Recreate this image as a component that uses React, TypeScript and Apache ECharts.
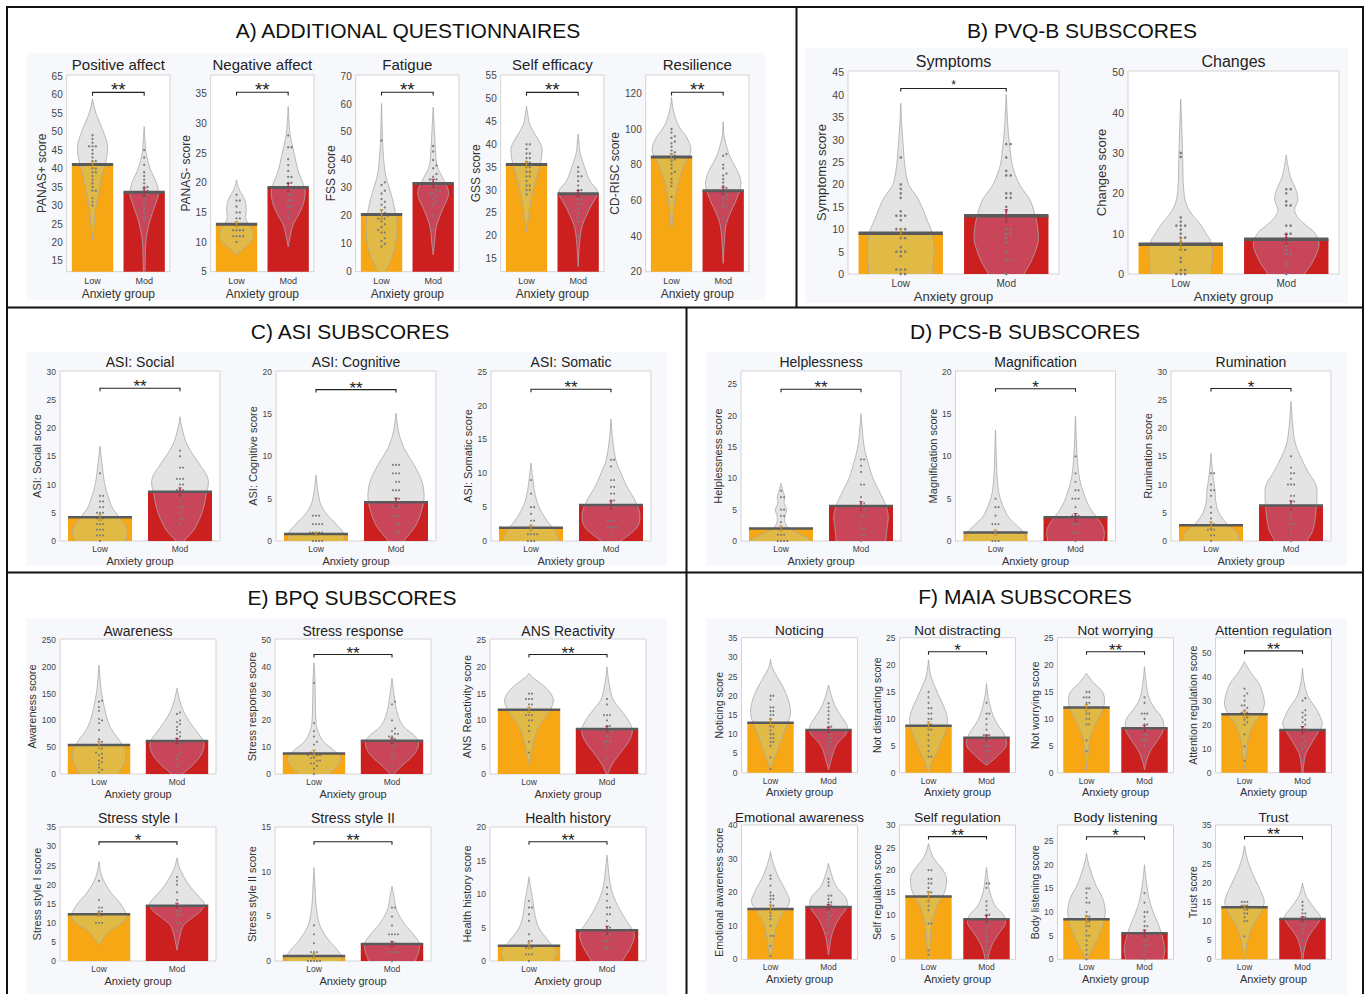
import React, { useEffect, useRef } from "react";
import * as echarts from "echarts";

const FONT = "'Liberation Sans', Arial, Helvetica, sans-serif";
const GROUPS = ["Low", "Mod"];
const ORANGE = "#f6a713";
const RED = "#cc1f1f";
const TINT_LOW = "#e1ba46";
const TINT_MOD = "#c9465a";
const VIOLIN = "#e4e4e4";

// ---------------- Panel A: Additional questionnaires ----------------
const A_titles = ["Positive affect", "Negative affect", "Fatigue", "Self efficacy", "Resilience"];
const A_yLabels = ["PANAS+ score", "PANAS- score", "FSS score", "GSS score", "CD-RISC score"];
const A_yLimits = [[12.1, 65.3], [5, 38.2], [0, 70.4], [12.1, 55.2], [20, 130.3]];
const A_yTicks = [[15, 65, 5], [5, 35, 5], [0, 70, 10], [15, 55, 5], [20, 120, 20]];
const A_meanLow = [41.1, 13.0, 20.5, 35.6, 84.3];
const A_meanMod = [33.6, 19.2, 31.6, 29.2, 65.4];
const A_seLow = [0.9, 0.45, 1.7, 0.7, 1.8];
const A_seMod = [1.1, 0.7, 1.5, 0.7, 2.0];
const A_sig = ["**", "**", "**", "**", "**"];
const A_sigLevel = [60.6, 35.3, 64.2, 51.4, 120.6];
const A_violinLow = [
  [[20.7, 0], [25, 0.06], [30, 0.14], [34, 0.25], [38, 0.36], [42, 0.52], [46, 0.58], [50, 0.42], [55, 0.13], [58.8, 0]],
  [[7.8, 0], [9, 0.3], [10.3, 0.6], [11.5, 0.66], [12.8, 0.5], [14, 0.36], [15.5, 0.38], [17, 0.33], [18.5, 0.15], [19.5, 0.05], [20.5, 0]],
  [[-2, 0.12], [0, 0.15], [5, 0.4], [10, 0.55], [17, 0.6], [25, 0.45], [30, 0.3], [35, 0.15], [42, 0.07], [50, 0.03], [60.2, 0]],
  [[20.9, 0], [23, 0.05], [27, 0.15], [31, 0.3], [35, 0.5], [38, 0.6], [40, 0.55], [44, 0.15], [46.5, 0.05], [48.4, 0]],
  [[43.4, 0], [55, 0.08], [65, 0.18], [72, 0.3], [80, 0.5], [88, 0.75], [95, 0.6], [100, 0.35], [105, 0.18], [112, 0.05], [118, 0]],
];
const A_violinMod = [
  [[10, 0.03], [18, 0.05], [22, 0.1], [26, 0.23], [30, 0.42], [33, 0.55], [36, 0.48], [40, 0.23], [44, 0.08], [47, 0.04], [51.3, 0]],
  [[9.2, 0], [11, 0.08], [13, 0.2], [15, 0.45], [17, 0.62], [19, 0.64], [22, 0.39], [25, 0.23], [28, 0.08], [30.5, 0.03], [32.9, 0]],
  [[6, 0], [10, 0.05], [16, 0.12], [22, 0.35], [28, 0.6], [33, 0.4], [38, 0.15], [45, 0.08], [52, 0.04], [58.8, 0]],
  [[13.2, 0], [18, 0.05], [22, 0.15], [26, 0.45], [29.5, 0.75], [32, 0.45], [35, 0.25], [38, 0.08], [40, 0.04], [42.3, 0]],
  [[24.7, 0], [35, 0.04], [45, 0.1], [52, 0.25], [60, 0.5], [68, 0.68], [75, 0.6], [85, 0.25], [95, 0.05], [104, 0]],
];
const A_dotsLow = [
  [49, 48, 47, 46, 46, 46, 45, 44, 43, 42, 42, 41, 41, 40, 40, 39, 39, 38, 37, 36, 35, 34, 34, 32, 31, 30],
  [18, 17, 17, 16, 15, 15, 14, 14, 13, 13, 13, 12, 12, 12, 12, 11, 11, 11, 11, 10],
  [47, 32, 31, 29, 28, 26, 25, 24, 23, 22, 21, 20, 20, 19, 19, 18, 17, 16, 15, 14, 14, 12, 11, 10, 9],
  [40, 40, 39, 38, 38, 37, 37, 36, 36, 35, 35, 34, 34, 33, 33, 32, 31, 31, 30, 30, 29],
  [100, 98, 96, 95, 93, 92, 90, 88, 87, 86, 85, 84, 83, 82, 80, 78, 76, 75, 72, 70, 68, 62],
];
const A_dotsMod = [
  [45, 43, 41, 39, 38, 37, 36, 35, 35, 34, 34, 33, 33, 32, 31, 30, 29, 28, 27, 26, 17],
  [28, 26, 26, 24, 23, 22, 21, 21, 20, 20, 19, 19, 18, 18, 17, 17, 16, 16, 15, 14],
  [45, 43, 40, 38, 37, 35, 34, 33, 33, 32, 31, 31, 30, 29, 29, 28, 28, 27, 26, 25, 24, 20, 15],
  [35, 34, 33, 33, 32, 31, 30, 30, 29, 29, 28, 28, 27, 27, 26, 25, 24, 23, 20],
  [86, 85, 80, 78, 75, 74, 72, 70, 68, 67, 66, 65, 64, 63, 62, 61, 60, 58, 57, 56, 50, 42],
];

// ---------------- Panel B: PVQ-B subscores ----------------
const B_titles = ["Symptoms", "Changes"];
const B_yLabels = ["Symptoms score", "Changes score"];
const B_yLimits = [[0, 45.3], [0, 50.3]];
const B_yTicks = [[0, 45, 5], [0, 50, 10]];
const B_meanLow = [9.1, 7.4];
const B_meanMod = [13.0, 8.6];
const B_seLow = [1.05, 1.5];
const B_seMod = [1.35, 1.2];
const B_sig = ["*", ""];
const B_sigLevel = [41.4, 0];
const B_violinLow = [
  [[-2, 0.58], [0, 0.6], [5, 0.63], [9, 0.6], [12, 0.5], [16.5, 0.34], [20, 0.15], [24, 0.08], [28, 0.05], [33, 0.02], [38.1, 0]],
  [[-2, 0.58], [0, 0.58], [5, 0.6], [8, 0.57], [10, 0.48], [12.5, 0.36], [15, 0.2], [18, 0.09], [22, 0.05], [27, 0.04], [32, 0.03], [38, 0.015], [43.3, 0]],
];
const B_violinMod = [
  [[-2, 0.3], [0, 0.34], [3, 0.48], [7, 0.6], [10, 0.6], [13, 0.55], [16.5, 0.45], [20, 0.25], [24, 0.12], [28, 0.07], [33, 0.03], [40, 0]],
  [[-2, 0.3], [0, 0.35], [3, 0.5], [7, 0.62], [10, 0.55], [12, 0.38], [14, 0.22], [16, 0.16], [18.5, 0.22], [21, 0.18], [24, 0.08], [27, 0.03], [29.5, 0]],
];
const B_dotsLow = [
  [26, 20, 19, 18, 17, 14, 13, 13, 13, 12, 10, 10, 10, 9, 8, 8, 6, 5, 5, 5, 4, 1, 1, 1, 0, 0],
  [30, 29, 14, 13, 12, 12, 12, 11, 10, 9, 9, 8, 7, 6, 6, 4, 3, 1, 1, 0, 0, 0],
];
const B_dotsMod = [
  [29, 29, 26, 23, 22, 22, 18, 18, 17, 17, 15, 14, 13, 13, 10, 10, 9, 9, 8, 7, 5, 3, 3, 0],
  [21, 21, 20, 18, 17, 17, 12, 12, 10, 10, 9, 8, 8, 7, 6, 5, 5, 3, 2, 0],
];

// ---------------- Panel C: ASI subscores ----------------
const C_titles = ["ASI: Social", "ASI: Cognitive", "ASI: Somatic"];
const C_yLabels = ["ASI: Social score", "ASI: Cognitive score", "ASI: Somatic score"];
const C_yLimits = [[0, 30.1], [0, 20.1], [0, 25.1]];
const C_yTicks = [[0, 30, 5], [0, 20, 5], [0, 25, 5]];
const C_meanLow = [4.2, 0.83, 1.97];
const C_meanMod = [8.7, 4.57, 5.3];
const C_seLow = [0.55, 0.2, 0.4];
const C_seMod = [0.7, 0.5, 0.6];
const C_sig = ["**", "**", "**"];
const C_sigLevel = [27.05, 17.9, 22.4];
const C_violinLow = [
  [[-2, 0.6], [0, 0.65], [2, 0.68], [4, 0.5], [6, 0.3], [8, 0.2], [10, 0.12], [13, 0.06], [16.8, 0]],
  [[-1, 0.68], [0, 0.7], [1, 0.68], [2, 0.5], [3, 0.3], [4, 0.15], [5, 0.08], [6.5, 0.03], [7.8, 0]],
  [[-1, 0.68], [0, 0.7], [1.5, 0.6], [3, 0.4], [5, 0.2], [7, 0.1], [9, 0.05], [11.5, 0]],
];
const C_violinMod = [
  [[-1, 0.05], [0, 0.1], [2, 0.35], [5, 0.55], [8, 0.65], [11, 0.7], [14, 0.45], [17, 0.18], [20, 0.05], [22, 0]],
  [[-1, 0.15], [0, 0.2], [1.5, 0.45], [3, 0.6], [5, 0.7], [7, 0.65], [9, 0.45], [11, 0.2], [13, 0.06], [15.1, 0]],
  [[-1, 0.15], [0, 0.25], [2, 0.65], [4, 0.72], [6, 0.6], [8, 0.4], [10, 0.25], [12, 0.12], [15, 0.04], [18, 0]],
];
const C_dotsLow = [
  [12, 8, 8, 7, 7, 6, 6, 5, 5, 5, 4, 4, 4, 3, 3, 3, 2, 2, 2, 1, 1, 1, 0],
  [3, 3, 3, 2, 2, 2, 2, 1, 1, 1, 1, 1, 0, 0, 0, 0],
  [9, 7, 5, 5, 4, 3, 3, 2, 2, 2, 1, 1, 1, 1, 0, 0, 0],
];
const C_dotsMod = [
  [16, 15, 13, 13, 11, 11, 11, 10, 10, 9, 9, 9, 8, 8, 7, 6, 6, 5, 4, 4, 3],
  [9, 9, 9, 8, 8, 8, 7, 7, 6, 6, 6, 5, 5, 4, 4, 4, 3, 3, 3, 2, 2, 1, 1],
  [12, 12, 11, 9, 9, 8, 8, 7, 7, 6, 6, 5, 5, 3, 3, 3, 2, 2, 2, 2, 1],
];

// ---------------- Panel D: PCS-B subscores ----------------
const D_titles = ["Helplessness", "Magnification", "Rumination"];
const D_yLabels = ["Helplessness score", "Magnification score", "Rumination score"];
const D_yLimits = [[0, 27.1], [0, 20.1], [0, 30.1]];
const D_yTicks = [[0, 25, 5], [0, 20, 5], [0, 30, 5]];
const D_meanLow = [2.0, 1.0, 2.8];
const D_meanMod = [5.57, 2.8, 6.3];
const D_seLow = [0.4, 0.3, 0.6];
const D_seMod = [0.7, 0.45, 0.8];
const D_sig = ["**", "*", "*"];
const D_sigLevel = [24.2, 18.0, 27.0];
const D_violinLow = [
  [[-1, 0.8], [0, 0.78], [1, 0.5], [2, 0.2], [3, 0.1], [4, 0.1], [5, 0.14], [6, 0.08], [7, 0.09], [8, 0.05], [9.2, 0]],
  [[-1, 0.75], [0, 0.75], [1, 0.7], [2, 0.5], [3, 0.3], [5, 0.12], [7, 0.05], [10, 0.02], [13.1, 0]],
  [[-1, 0.7], [0, 0.7], [1.5, 0.65], [3, 0.4], [5, 0.2], [7, 0.12], [9, 0.1], [11, 0.06], [13, 0.03], [15.5, 0]],
];
const D_violinMod = [
  [[-1, 0.6], [0, 0.62], [2, 0.65], [4, 0.68], [6, 0.6], [8, 0.45], [10, 0.3], [12, 0.2], [15, 0.08], [18, 0.03], [20.3, 0]],
  [[-1, 0.7], [0, 0.7], [1, 0.72], [2, 0.65], [4, 0.35], [6, 0.18], [8, 0.08], [11, 0.03], [14.8, 0]],
  [[-1, 0.35], [0, 0.4], [2, 0.55], [5, 0.62], [8, 0.65], [10, 0.62], [12, 0.45], [14, 0.3], [17, 0.12], [20, 0.05], [24.7, 0]],
];
const D_dotsLow = [
  [8, 7, 7, 5, 5, 4, 4, 3, 2, 2, 2, 1, 1, 1, 0, 0, 0, 0],
  [5, 4, 4, 3, 2, 2, 2, 1, 1, 1, 1, 0, 0, 0],
  [12, 12, 10, 9, 9, 8, 6, 5, 4, 3, 3, 2, 2, 2, 1, 1, 0],
];
const D_dotsMod = [
  [13, 13, 12, 11, 9, 9, 7, 6, 6, 5, 5, 4, 4, 3, 2, 2, 1, 1, 0],
  [10, 8, 7, 6, 6, 5, 5, 5, 4, 3, 3, 3, 2, 2, 2, 1, 1, 1, 0],
  [15, 13, 12, 12, 11, 10, 10, 10, 8, 8, 7, 7, 6, 5, 4, 3, 3, 2, 1, 0],
];

// ---------------- Panel E: BPQ subscores ----------------
const E_titles = ["Awareness", "Stress response", "ANS Reactivity", "Stress style I", "Stress style II", "Health history"];
const E_yLabels = ["Awareness score", "Stress response score", "ANS Reactivity score", "Stress style I score", "Stress style II score", "Health history score"];
const E_yLimits = [[0, 252], [0, 50.4], [0, 25.2], [0, 35.1], [0, 15.05], [0, 20.05]];
const E_yTicks = [[0, 250, 50], [0, 50, 10], [0, 25, 5], [0, 35, 5], [0, 15, 5], [0, 20, 5]];
const E_meanLow = [54.1, 7.7, 12.0, 12.25, 0.56, 2.3];
const E_meanMod = [61.6, 12.4, 8.4, 14.5, 1.9, 4.6];
const E_seLow = [7, 1.2, 0.5, 0.55, 0.25, 0.5];
const E_seMod = [5, 1.0, 0.5, 0.65, 0.3, 0.6];
const E_sig = ["", "**", "**", "*", "**", "**"];
const E_sigLevel = [0, 44.6, 22.3, 31.2, 13.4, 17.85];
const E_violinLow = [
  [[-10, 0.45], [0, 0.5], [20, 0.65], [40, 0.68], [60, 0.55], [80, 0.35], [100, 0.22], [130, 0.12], [160, 0.05], [203, 0]],
  [[-2, 0.35], [0, 0.4], [3, 0.6], [6, 0.68], [9, 0.5], [12, 0.25], [16, 0.1], [20, 0.05], [30, 0.03], [35, 0.025], [41.5, 0]],
  [[1.7, 0], [4, 0.06], [6, 0.12], [8, 0.2], [10, 0.35], [12, 0.55], [14, 0.62], [16, 0.45], [18, 0.1], [18.8, 0]],
  [[4.3, 0], [6, 0.12], [8, 0.3], [10, 0.6], [12, 0.7], [15, 0.55], [18, 0.3], [22, 0.08], [26, 0]],
  [[-1, 0.7], [0, 0.7], [0.5, 0.72], [1.5, 0.55], [2.5, 0.35], [4, 0.15], [6, 0.06], [8, 0.03], [10.5, 0]],
  [[-1, 0.62], [0, 0.65], [1.5, 0.7], [3, 0.5], [5, 0.25], [7, 0.15], [9, 0.1], [11, 0.04], [12.6, 0]],
];
const E_violinMod = [
  [[-10, 0.1], [0, 0.15], [20, 0.45], [40, 0.65], [60, 0.68], [80, 0.5], [100, 0.3], [120, 0.15], [140, 0.06], [160, 0]],
  [[-1, 0.02], [0, 0.05], [3, 0.25], [7, 0.55], [11, 0.68], [14, 0.6], [17, 0.35], [20, 0.2], [25, 0.1], [30, 0.05], [35.7, 0]],
  [[-1, 0.01], [0, 0.02], [2, 0.15], [4, 0.35], [6, 0.55], [8, 0.65], [10, 0.55], [12, 0.35], [14, 0.15], [17, 0.05], [20, 0]],
  [[2.8, 0], [6, 0.06], [9, 0.15], [11, 0.35], [13, 0.6], [15, 0.7], [17, 0.55], [20, 0.3], [24, 0.08], [27, 0]],
  [[-1, 0.55], [0, 0.6], [1, 0.68], [2, 0.7], [3, 0.55], [4, 0.35], [5, 0.2], [6, 0.1], [7.5, 0.04], [8.4, 0]],
  [[-1, 0.35], [0, 0.4], [2, 0.6], [4, 0.7], [6, 0.5], [8, 0.3], [10, 0.15], [12, 0.07], [15.85, 0]],
];
const E_dotsLow = [
  [137, 135, 125, 118, 103, 100, 95, 82, 65, 60, 55, 48, 45, 40, 38, 35, 30, 25, 22, 18, 12, 8, 3],
  [34, 19, 16, 14, 12, 11, 9, 8, 8, 7, 7, 7, 6, 6, 5, 5, 4, 4, 3, 2, 0],
  [15, 15, 14, 14, 14, 13, 13, 12, 12, 12, 11, 11, 11, 10, 10, 9, 8, 6, 4],
  [21, 17, 16, 15, 14, 14, 13, 13, 12, 12, 11, 11, 11, 10, 10, 10, 9, 9],
  [4, 3, 2, 1, 1, 1, 0, 0, 0, 0, 0],
  [9, 8, 8, 7, 6, 4, 3, 3, 2, 2, 2, 1, 1, 1, 0],
];
const E_dotsMod = [
  [115, 112, 100, 97, 93, 88, 82, 78, 75, 70, 66, 60, 58, 55, 50, 45, 40, 35, 28, 20, 15],
  [27, 26, 20, 17, 16, 15, 15, 14, 14, 13, 12, 12, 11, 10, 9, 8, 7, 6, 3],
  [14, 13, 11, 11, 11, 10, 9, 9, 8, 8, 8, 8, 7, 7, 6, 6, 6, 5, 3],
  [22, 21, 20, 18, 17, 17, 16, 15, 15, 14, 14, 13, 13, 12, 12, 11, 10, 10, 8],
  [6, 6, 5, 4, 3, 3, 3, 3, 2, 2, 1, 1, 1, 1, 0],
  [11, 10, 9, 8, 8, 7, 7, 6, 5, 5, 4, 4, 4, 3, 3, 3, 2, 2, 2],
];

// ---------------- Panel F: MAIA subscores ----------------
const F_titles = ["Noticing", "Not distracting", "Not worrying", "Attention regulation", "Emotional awareness", "Self regulation", "Body listening", "Trust"];
const F_yLabels = ["Noticing score", "Not distracting score", "Not worrying score", "Attention regulation score", "Emotional awareness score", "Self regulation score", "Body listening score", "Trust score"];
const F_yLimits = [[0, 35.1], [0, 25.1], [0, 25.1], [0, 56.2], [0, 40.1], [0, 30.1], [0, 28.4], [0, 35.1]];
const F_yTicks = [[0, 35, 5], [0, 25, 5], [0, 25, 5], [0, 50, 10], [0, 40, 10], [0, 30, 5], [0, 25, 5], [0, 35, 5]];
const F_meanLow = [13.0, 8.75, 12.1, 24.3, 15.0, 14.1, 8.45, 13.6];
const F_meanMod = [11.1, 6.5, 8.25, 17.8, 15.6, 9.0, 5.5, 10.5];
const F_seLow = [0.9, 0.7, 0.6, 1.4, 1.2, 1.1, 0.8, 0.5];
const F_seMod = [0.7, 0.5, 0.55, 1.4, 0.8, 0.8, 0.7, 0.6];
const F_sig = ["", "*", "**", "**", "", "**", "*", "**"];
const F_sigLevel = [0, 22.5, 22.5, 50.7, 0, 27.5, 25.9, 32.1];
const F_violinLow = [
  [[0.7, 0], [3, 0.1], [6, 0.25], [9, 0.4], [12, 0.55], [15, 0.68], [18, 0.65], [22, 0.45], [27, 0.08], [29.5, 0]],
  [[-1, 0.01], [0, 0.02], [2, 0.12], [4, 0.3], [6, 0.45], [8, 0.6], [10, 0.65], [12, 0.55], [15, 0.3], [18, 0.08], [21, 0]],
  [[0.5, 0], [3, 0.04], [5, 0.08], [7, 0.15], [9, 0.3], [11, 0.5], [13, 0.62], [15, 0.55], [17, 0.2], [18.5, 0]],
  [[1.1, 0], [5, 0.04], [10, 0.08], [15, 0.15], [20, 0.3], [24, 0.55], [28, 0.68], [32, 0.65], [37, 0.5], [42, 0.2], [46.25, 0]],
  [[0.3, 0], [2, 0.05], [5, 0.1], [8, 0.15], [11, 0.25], [14, 0.45], [17, 0.65], [20, 0.55], [25, 0.25], [30, 0.05], [32.2, 0]],
  [[-1, 0.03], [0, 0.03], [3, 0.05], [6, 0.08], [9, 0.15], [12, 0.3], [15, 0.55], [18, 0.62], [20, 0.5], [23, 0.15], [26, 0]],
  [[-1, 0.03], [0, 0.04], [1, 0.1], [4, 0.35], [7, 0.55], [10, 0.65], [13, 0.55], [16, 0.3], [20, 0.08], [22.4, 0]],
  [[-1, 0.02], [0, 0.02], [3, 0.06], [6, 0.15], [9, 0.3], [12, 0.55], [15, 0.68], [18, 0.55], [22, 0.3], [26, 0.1], [29.7, 0]],
];
const F_violinMod = [
  [[0.7, 0], [3, 0.08], [6, 0.2], [8, 0.35], [10, 0.6], [12, 0.65], [14, 0.5], [17, 0.25], [20, 0.1], [22.8, 0]],
  [[1.4, 0], [2, 0.15], [3.5, 0.45], [5, 0.68], [7, 0.62], [9, 0.38], [11, 0.2], [14, 0.06], [16.6, 0]],
  [[0.5, 0], [2, 0.06], [4, 0.2], [6, 0.45], [8, 0.65], [10, 0.62], [12, 0.35], [14, 0.15], [17, 0.05], [19.7, 0]],
  [[-1, 0.02], [0, 0.02], [4, 0.05], [8, 0.12], [12, 0.3], [16, 0.5], [20, 0.68], [23, 0.62], [27, 0.45], [32, 0.18], [38, 0.05], [43.5, 0]],
  [[1.3, 0], [3, 0.03], [6, 0.08], [9, 0.18], [12, 0.35], [15, 0.6], [17, 0.65], [19, 0.55], [22, 0.25], [26, 0.08], [28.7, 0]],
  [[-1, 0.05], [0, 0.05], [2, 0.12], [4, 0.25], [6, 0.45], [8, 0.65], [10, 0.58], [12, 0.3], [15, 0.12], [18, 0.05], [20.6, 0]],
  [[-1, 0.65], [0, 0.65], [2, 0.7], [4, 0.65], [7, 0.5], [10, 0.3], [13, 0.15], [17, 0.05], [20, 0]],
  [[-1, 0.02], [0, 0.02], [2, 0.05], [5, 0.15], [7, 0.3], [9, 0.5], [11, 0.62], [13, 0.45], [15, 0.25], [17, 0.1], [19.9, 0]],
];
const F_dotsLow = [
  [20, 20, 19, 17, 17, 16, 16, 15, 15, 14, 13, 12, 12, 11, 10, 10, 9, 9, 8, 8, 7, 4, 1],
  [15, 14, 13, 12, 12, 11, 11, 10, 10, 9, 9, 8, 8, 7, 6, 5, 4, 3, 3],
  [15, 15, 14, 14, 14, 13, 13, 12, 12, 11, 11, 10, 10, 9, 9, 6, 4],
  [35, 33, 32, 30, 28, 28, 27, 26, 25, 25, 24, 23, 22, 21, 20, 16, 11, 5],
  [25, 24, 22, 20, 19, 19, 18, 18, 17, 16, 16, 15, 15, 14, 13, 12, 10, 7, 7, 4, 1],
  [20, 20, 18, 18, 17, 17, 16, 15, 15, 14, 14, 13, 12, 11, 8, 8, 2, 1],
  [15, 15, 14, 13, 12, 12, 10, 9, 9, 8, 8, 7, 7, 6, 5, 5, 4, 3, 2, 1, 0],
  [15, 15, 15, 14, 14, 14, 13, 13, 12, 12, 11, 10, 10, 6],
];
const F_dotsMod = [
  [18, 17, 16, 15, 14, 13, 12, 12, 11, 11, 10, 10, 9, 9, 8, 8, 7, 6, 5],
  [13, 11, 11, 10, 9, 8, 7, 7, 7, 6, 6, 6, 5, 5, 5, 4, 4, 3, 2],
  [14, 13, 11, 11, 11, 10, 9, 9, 8, 8, 8, 7, 7, 6, 6, 6, 5, 3],
  [31, 30, 26, 25, 24, 23, 22, 21, 20, 19, 18, 17, 15, 13, 12, 11, 10, 5, 2],
  [24, 23, 22, 19, 19, 18, 17, 17, 16, 16, 15, 15, 14, 13, 13, 12, 11, 10, 8],
  [17, 17, 16, 13, 12, 11, 10, 10, 9, 9, 8, 8, 7, 6, 5, 4, 3, 2, 1],
  [14, 12, 10, 10, 9, 8, 7, 7, 6, 5, 5, 4, 4, 3, 3, 2, 1, 0],
  [15, 14, 13, 12, 12, 11, 11, 10, 10, 9, 9, 8, 7, 5, 3, 1],
];

const PANEL_TITLES = ["A) ADDITIONAL QUESTIONNAIRES", "B) PVQ-B SUBSCORES", "C) ASI SUBSCORES", "D) PCS-B SUBSCORES", "E) BPQ SUBSCORES", "F) MAIA SUBSCORES"];

// ---------------- helpers ----------------
type PanelData = {
  titles: string[]; yLabels: string[]; yLimits: number[][]; yTicks: number[][];
  meanLow: number[]; meanMod: number[]; seLow: number[]; seMod: number[];
  sig: string[]; sigLevel: number[];
  violinLow: number[][][]; violinMod: number[][][];
  dotsLow: number[][]; dotsMod: number[][];
};
type Layout = {
  boxes: number[][]; titleY: number[];
  fTitle: number; fTick: number; fYName: number; fCat: number; fXName: number;
  catGap: number; xNameGap: number; yNameGap: number;
  dotR: number; dotDx: number; meanW: number; starFont: number; starDy: number; drop: number;
};

function sampleProfile(p: number[][]): number[][] {
  const out: number[][] = [];
  const n = p.length;
  const cr = (a: number, b: number, c: number, d: number, t: number) => {
    const t2 = t * t, t3 = t2 * t;
    return 0.5 * (2 * b + (-a + c) * t + (2 * a - 5 * b + 4 * c - d) * t2 + (-a + 3 * b - 3 * c + d) * t3);
  };
  for (let i = 0; i < n - 1; i++) {
    const p0 = p[Math.max(0, i - 1)], p1 = p[i], p2 = p[i + 1], p3 = p[Math.min(n - 1, i + 2)];
    for (let s = 0; s < 8; s++) {
      const t = s / 8;
      out.push([cr(p0[0], p1[0], p2[0], p3[0], t), Math.max(0, cr(p0[1], p1[1], p2[1], p3[1], t))]);
    }
  }
  out.push(p[n - 1]);
  const asc: number[][] = [];
  for (const q of out) if (!asc.length || q[0] > asc[asc.length - 1][0]) asc.push(q);
  return asc;
}

function widthAt(s: number[][], v: number): number {
  if (v <= s[0][0]) return s[0][1];
  for (let i = 1; i < s.length; i++) {
    if (v <= s[i][0]) {
      const t = (v - s[i - 1][0]) / (s[i][0] - s[i - 1][0]);
      return s[i - 1][1] + t * (s[i][1] - s[i - 1][1]);
    }
  }
  return s[s.length - 1][1];
}

function clipRange(s: number[][], lo: number, hi: number): number[][] {
  const a = Math.max(lo, s[0][0]);
  const b = Math.min(hi, s[s.length - 1][0]);
  if (a >= b) return [];
  const out: number[][] = [[a, widthAt(s, a)]];
  for (const q of s) if (q[0] > a && q[0] < b) out.push(q);
  out.push([b, widthAt(s, b)]);
  return out;
}

function makeTicks(spec: number[]): number[] {
  const r: number[] = [];
  for (let t = spec[0]; t <= spec[1] + 1e-9; t += spec[2]) r.push(t);
  return r;
}

function buildOption() {
  const grids: any[] = [];
  const xAxes: any[] = [];
  const yAxes: any[] = [];
  const series: any[] = [];
  const graphics: any[] = [];

  const addPanel = (d: PanelData, L: Layout) => {
    d.titles.forEach((title, j) => {
      const idx = grids.length;
      const [bx, by, bw, bh] = L.boxes[j];
      const [lo, hi] = d.yLimits[j];
      grids.push({ left: bx, top: by, width: bw, height: bh, show: true, backgroundColor: "#ffffff", borderColor: "#d3d3d3", borderWidth: 1, containLabel: false });
      xAxes.push({
        type: "category", gridIndex: idx, data: GROUPS,
        axisLine: { show: false }, axisTick: { show: false },
        axisLabel: { fontSize: L.fCat, color: "#3a3a3a", margin: L.catGap, fontFamily: FONT },
        name: "Anxiety group", nameLocation: "middle", nameGap: L.xNameGap,
        nameTextStyle: { fontSize: L.fXName, color: "#333", fontFamily: FONT },
      });
      yAxes.push({
        type: "value", gridIndex: idx, min: lo, max: hi,
        axisLine: { show: false }, axisTick: { show: false }, splitLine: { show: false },
        axisLabel: { customValues: makeTicks(d.yTicks[j]), fontSize: L.fTick, color: "#444", margin: 4, fontFamily: FONT },
        name: d.yLabels[j], nameLocation: "middle", nameRotate: 90, nameGap: L.yNameGap,
        nameTextStyle: { fontSize: L.fYName, color: "#333", fontFamily: FONT },
      });
      series.push({
        type: "bar", xAxisIndex: idx, yAxisIndex: idx, barWidth: "80%", silent: true, z: 2,
        data: [
          { value: d.meanLow[j], itemStyle: { color: ORANGE } },
          { value: d.meanMod[j], itemStyle: { color: RED } },
        ],
      });
      series.push({
        type: "custom", xAxisIndex: idx, yAxisIndex: idx, silent: true, z: 3,
        data: [[0, lo], [1, lo]],
        renderItem: (params: any, api: any) => {
          const g = params.dataIndex;
          const band = api.size([1, 0])[0];
          const cx = api.coord([g, lo])[0];
          const Y = (v: number) => api.coord([g, v])[1];
          const mean = g === 0 ? d.meanLow[j] : d.meanMod[j];
          const se = g === 0 ? d.seLow[j] : d.seMod[j];
          const prof = g === 0 ? d.violinLow[j] : d.violinMod[j];
          const dots = g === 0 ? d.dotsLow[j] : d.dotsMod[j];
          const children: any[] = [];
          const samp = sampleProfile(prof);
          const poly = (list: number[][]) => {
            const right = list.map(([v, w]) => [cx + (w * band) / 2, Y(v)]);
            const left = list.slice().reverse().map(([v, w]) => [cx - (w * band) / 2, Y(v)]);
            return right.concat(left);
          };
          const m = Math.min(Math.max(mean, lo), hi);
          const above = clipRange(samp, m, hi);
          const below = clipRange(samp, lo, m);
          if (above.length > 1) children.push({ type: "polygon", shape: { points: poly(above) }, style: { fill: VIOLIN } });
          if (below.length > 1) children.push({ type: "polygon", shape: { points: poly(below) }, style: { fill: g === 0 ? TINT_LOW : TINT_MOD } });
          const full = clipRange(samp, lo, hi);
          if (full.length > 1) {
            const leftSide = full.map(([v, w]) => [cx - (w * band) / 2, Y(v)]);
            const rightSide = full.slice().reverse().map(([v, w]) => [cx + (w * band) / 2, Y(v)]);
            children.push({ type: "polyline", shape: { points: leftSide.concat(rightSide) }, style: { stroke: "#a8a8a8", lineWidth: 0.8, fill: "none" } });
          }
          // swarm of dots
          const vals = dots.slice().sort((a, b) => a - b);
          const placed: number[][] = [];
          const minD = L.dotR * 2 + 0.8;
          for (const v of vals) {
            const y = Y(v);
            let off = 0;
            for (let k = 0; k < 40; k++) {
              const o = k === 0 ? 0 : (k % 2 ? 1 : -1) * Math.ceil(k / 2) * L.dotDx;
              if (placed.every(([px, py]) => Math.hypot(px - o, py - y) >= minD)) { off = o; break; }
            }
            placed.push([off, y]);
          }
          placed.forEach(([o, y]) => {
            children.push({ type: "circle", shape: { cx: cx + o, cy: y, r: L.dotR }, style: { fill: "#7b7b7b" } });
          });
          // mean line
          const ym = Y(mean);
          children.push({ type: "line", shape: { x1: cx - 0.4 * band, y1: ym, x2: cx + 0.4 * band, y2: ym }, style: { stroke: "#5a5a5a", lineWidth: L.meanW } });
          // error bar
          const ec = g === 0 ? "#c39430" : "#a8324c";
          const y1 = Y(mean - se), y2 = Y(mean + se);
          children.push({ type: "line", shape: { x1: cx, y1, x2: cx, y2 }, style: { stroke: ec, lineWidth: 1.3 } });
          children.push({ type: "line", shape: { x1: cx - 1.8, y1, x2: cx + 1.8, y2: y1 }, style: { stroke: ec, lineWidth: 1 } });
          children.push({ type: "line", shape: { x1: cx - 1.8, y1: y2, x2: cx + 1.8, y2 }, style: { stroke: ec, lineWidth: 1 } });
          // significance bracket
          if (g === 0 && d.sig[j]) {
            const x0 = cx;
            const x1 = api.coord([1, lo])[0];
            const yb = Y(d.sigLevel[j]);
            children.push({ type: "polyline", shape: { points: [[x0, yb + L.drop], [x0, yb], [x1, yb], [x1, yb + L.drop]] }, style: { stroke: "#222", lineWidth: 1.1, fill: "none" } });
            children.push({
              type: "text",
              style: { text: d.sig[j], x: (x0 + x1) / 2, y: yb + L.starDy, fill: "#222", fontSize: L.starFont, fontFamily: FONT, align: "center", verticalAlign: "middle", textAlign: "center", textVerticalAlign: "middle" },
            });
          }
          return { type: "group", children };
        },
      });
      graphics.push({
        type: "text", x: bx + bw / 2, y: L.titleY[j], z: 50,
        style: { text: title, fill: "#222", fontSize: L.fTitle, fontFamily: FONT, align: "center", verticalAlign: "middle", textAlign: "center", textVerticalAlign: "middle" },
      });
    });
  };

  const dataOf = (p: string): PanelData => {
    const M: any = {
      A: [A_titles, A_yLabels, A_yLimits, A_yTicks, A_meanLow, A_meanMod, A_seLow, A_seMod, A_sig, A_sigLevel, A_violinLow, A_violinMod, A_dotsLow, A_dotsMod],
      B: [B_titles, B_yLabels, B_yLimits, B_yTicks, B_meanLow, B_meanMod, B_seLow, B_seMod, B_sig, B_sigLevel, B_violinLow, B_violinMod, B_dotsLow, B_dotsMod],
      C: [C_titles, C_yLabels, C_yLimits, C_yTicks, C_meanLow, C_meanMod, C_seLow, C_seMod, C_sig, C_sigLevel, C_violinLow, C_violinMod, C_dotsLow, C_dotsMod],
      D: [D_titles, D_yLabels, D_yLimits, D_yTicks, D_meanLow, D_meanMod, D_seLow, D_seMod, D_sig, D_sigLevel, D_violinLow, D_violinMod, D_dotsLow, D_dotsMod],
      E: [E_titles, E_yLabels, E_yLimits, E_yTicks, E_meanLow, E_meanMod, E_seLow, E_seMod, E_sig, E_sigLevel, E_violinLow, E_violinMod, E_dotsLow, E_dotsMod],
      F: [F_titles, F_yLabels, F_yLimits, F_yTicks, F_meanLow, F_meanMod, F_seLow, F_seMod, F_sig, F_sigLevel, F_violinLow, F_violinMod, F_dotsLow, F_dotsMod],
    };
    const a = M[p];
    return {
      titles: a[0], yLabels: a[1], yLimits: a[2], yTicks: a[3], meanLow: a[4], meanMod: a[5], seLow: a[6], seMod: a[7],
      sig: a[8], sigLevel: a[9], violinLow: a[10], violinMod: a[11], dotsLow: a[12], dotsMod: a[13],
    };
  };

  // layouts (pixel geometry)
  const aLefts = [66.7, 210.7, 355.7, 500.7, 645.7];
  addPanel(dataOf("A"), {
    boxes: aLefts.map((l) => [l, 75, 103.3, 196.7]), titleY: aLefts.map(() => 64),
    fTitle: 15, fTick: 10, fYName: 12, fCat: 9, fXName: 12, catGap: 5, xNameGap: 16, yNameGap: 16,
    dotR: 1.15, dotDx: 3.3, meanW: 3, starFont: 19, starDy: -2.5, drop: 3.3,
  });
  const bLefts = [848, 1128];
  addPanel(dataOf("B"), {
    boxes: bLefts.map((l) => [l, 71, 211, 203]), titleY: [61, 61],
    fTitle: 16, fTick: 10.5, fYName: 13, fCat: 10, fXName: 13, catGap: 4.5, xNameGap: 16, yNameGap: 17,
    dotR: 1.3, dotDx: 4.4, meanW: 3.5, starFont: 12, starDy: -3.7, drop: 3,
  });
  const cLefts = [60, 276, 491];
  addPanel(dataOf("C"), {
    boxes: cLefts.map((l) => [l, 371, 160, 170]), titleY: [362, 362, 362],
    fTitle: 14, fTick: 8.5, fYName: 11, fCat: 8.5, fXName: 11, catGap: 3, xNameGap: 14, yNameGap: 14.5,
    dotR: 1.05, dotDx: 3.1, meanW: 2.5, starFont: 17, starDy: -1.5, drop: 3,
  });
  const dLefts = [741, 955.5, 1171];
  addPanel(dataOf("D"), {
    boxes: dLefts.map((l) => [l, 371, 160, 170]), titleY: [362, 362, 362],
    fTitle: 14, fTick: 8.5, fYName: 11, fCat: 8.5, fXName: 11, catGap: 3, xNameGap: 14, yNameGap: 14.5,
    dotR: 1.05, dotDx: 3.1, meanW: 2.5, starFont: 17, starDy: -1.5, drop: 3,
  });
  const eLefts = [60, 275, 490];
  addPanel(dataOf("E"), {
    boxes: [...eLefts.map((l) => [l, 639, 156, 135]), ...eLefts.map((l) => [l, 827, 156, 134])],
    titleY: [630.5, 630.5, 630.5, 818, 818, 818],
    fTitle: 14, fTick: 8.5, fYName: 11, fCat: 8.5, fXName: 11, catGap: 3, xNameGap: 14.5, yNameGap: 16.5,
    dotR: 1.05, dotDx: 3.0, meanW: 2.5, starFont: 17, starDy: -1.5, drop: 3,
  });
  const fLefts = [741.5, 899.5, 1057.5, 1215.5];
  addPanel(dataOf("F"), {
    boxes: [...fLefts.map((l) => [l, 637.7, 116, 135]), ...fLefts.map((l) => [l, 825, 116, 134.3])],
    titleY: [630, 630, 630, 630, 817, 817, 817, 817],
    fTitle: 13.5, fTick: 8.5, fYName: 10.5, fCat: 8.5, fXName: 11, catGap: 3.5, xNameGap: 14, yNameGap: 14,
    dotR: 1.0, dotDx: 2.8, meanW: 2.5, starFont: 17, starDy: -1.5, drop: 3,
  });

  // panel backgrounds
  const bgs = [[27, 53, 738, 247], [805, 48, 543, 255], [26, 352, 641, 214], [706, 352, 641, 214], [26, 618, 641, 376], [706, 618, 641, 376]];
  bgs.forEach(([x, y, w, h]) => graphics.push({ type: "rect", z: -10, shape: { x, y, width: w, height: h }, style: { fill: "#f7f8fb" }, silent: true }));

  // panel borders
  const lines = [[7, 307.5, 1363, 307.5], [796.5, 7, 796.5, 307.5], [7, 572.5, 1363, 572.5], [686.5, 307.5, 686.5, 994]];
  graphics.push({ type: "rect", z: 60, shape: { x: 7, y: 7, width: 1356, height: 992 }, style: { fill: "none", stroke: "#111", lineWidth: 2 }, silent: true });
  lines.forEach(([x1, y1, x2, y2]) => graphics.push({ type: "line", z: 60, shape: { x1, y1, x2, y2 }, style: { stroke: "#111", lineWidth: 2 }, silent: true }));

  // panel titles
  const tpos = [[408, 30], [1082, 30], [350, 331], [1025, 331], [352, 597], [1025, 596]];
  PANEL_TITLES.forEach((t, i) => graphics.push({
    type: "text", x: tpos[i][0], y: tpos[i][1], z: 60,
    style: { text: t, fill: "#111", fontSize: 21, fontFamily: FONT, align: "center", verticalAlign: "middle", textAlign: "center", textVerticalAlign: "middle" },
  }));

  return {
    animation: false,
    backgroundColor: "#ffffff",
    textStyle: { fontFamily: FONT },
    grid: grids,
    xAxis: xAxes,
    yAxis: yAxes,
    series,
    graphic: { elements: graphics },
  };
}

export default function App() {
  const ref = useRef<HTMLDivElement>(null);
  useEffect(() => {
    if (!ref.current) return;
    const chart = echarts.init(ref.current, null, { renderer: "svg" });
    chart.setOption(buildOption() as any);
    return () => chart.dispose();
  }, []);
  return <div ref={ref} style={{ position: "absolute", left: 0, top: 0, width: 1369, height: 994 }} />;
}
